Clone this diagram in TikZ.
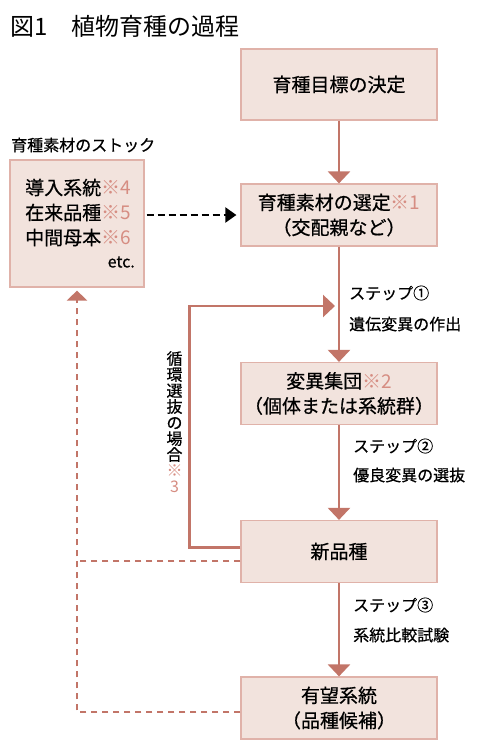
\documentclass[tikz,border=0pt]{standalone}
\usepackage{fontspec}
\setmainfont{Noto Sans CJK JP}
\newfontfamily\medfont{Noto Sans CJK JP}[FakeBold=0.6]
\usetikzlibrary{arrows.meta}
\definecolor{boxfill}{HTML}{F2E3DD}
\definecolor{boxline}{HTML}{E0B2A9}
\definecolor{flow}{HTML}{C27568}
\definecolor{note}{HTML}{D68D82}
\newcommand{\kome}[1]{\textcolor{note}{\normalfont ※#1}}

\begin{document}
\begin{tikzpicture}[x=1pt,y=-1pt,
  box/.style={draw=boxline, line width=1.2pt, fill=boxfill, minimum width=196pt,
    minimum height=62pt, align=center, font=\fontsize{19}{25}\medfont, inner sep=0pt},
  steplabel/.style={anchor=west, align=left, inner sep=0pt},
  flowarrow/.style={draw=flow, line width=2.5pt, -{Triangle[width=22pt,length=12pt]}},
  backarrow/.style={draw=flow, line width=2.5pt, dash pattern=on 6pt off 5pt},
]
\useasboundingbox (0,0) rectangle (480,753);

\node[anchor=west, font=\fontsize{24}{24}\selectfont, inner sep=0pt] (title) at (10,26) {図1　植物育種の過程};

\node[box, minimum height=71pt] (goal) at (339,84.5) {育種目標の決定};
\node[box] (select) at (339,215) {育種素材の選定\kome{1}\\（交配親など）};
\node[box] (mutant) at (339,393.5) {変異集団\kome{2}\\（個体または系統群）};
\node[box] (newvar) at (339,551.5) {新品種};
\node[box] (cand) at (339,708) {有望系統\\（品種候補）};

\node[draw=boxline, line width=1.2pt, fill=boxfill, minimum width=134pt,
  minimum height=127pt, inner sep=0pt] (stock) at (77,223.5) {};
\node[anchor=west, font=\fontsize{16}{16}\medfont, inner sep=0pt] (stocktitle) at (11,145) {育種素材のストック};
\node[anchor=west, align=left, font=\fontsize{19}{25}\medfont, inner sep=0pt] (stocklist) at (25,212.5)
  {導入系統\kome{4}\\在来品種\kome{5}\\中間母本\kome{6}};
\node[anchor=east, font=\fontsize{16}{16}\medfont, inner sep=0pt] (etc) at (135,262) {etc.};

\node[steplabel, font=\fontsize{16}{31}\medfont] (step1) at (349,308.5) {ステップ①\\遺伝変異の作出};
\node[steplabel, font=\fontsize{16}{29}\medfont] (step2) at (353,460.5) {ステップ②\\優良変異の選抜};
\node[steplabel, font=\fontsize{16}{30}\medfont] (step3) at (353,620) {ステップ③\\系統比較試験};

\node[align=center, font=\fontsize{16}{16}\medfont, inner sep=0pt] (loopnote) at (174.5,422)
  {循\\環\\選\\抜\\の\\場\\合\\\textcolor{note}{\normalfont ※}\\\textcolor{note}{\normalfont 3}};

% main flow
\draw[flowarrow] (goal) -- (select);
\draw[flowarrow] (select) -- (mutant);
\draw[flowarrow] (mutant) -- (newvar);
\draw[flowarrow] (newvar) -- (cand);

% recurrent selection
\coordinate (loopend) at (335,306);
\draw[flowarrow, line join=miter] ([yshift=4pt]newvar.west) -- ++(-51,0) |- (loopend);

% back to the stock
\coordinate (newvarback) at ([yshift=-9.5pt]newvar.west);
\draw[backarrow] (newvarback) -- (newvarback -| stock.south);
\draw[backarrow, -{Triangle[width=20pt,length=10pt]}, shorten >=3pt]
  ([yshift=-4pt]cand.west) -| (stock.south);

\draw[line width=2pt, dash pattern=on 7pt off 4pt, -{Triangle[width=15pt,length=11pt]},
  shorten <=2pt, shorten >=4pt] (stock.east |- select.west) -- (select.west);
\end{tikzpicture}
\end{document}
